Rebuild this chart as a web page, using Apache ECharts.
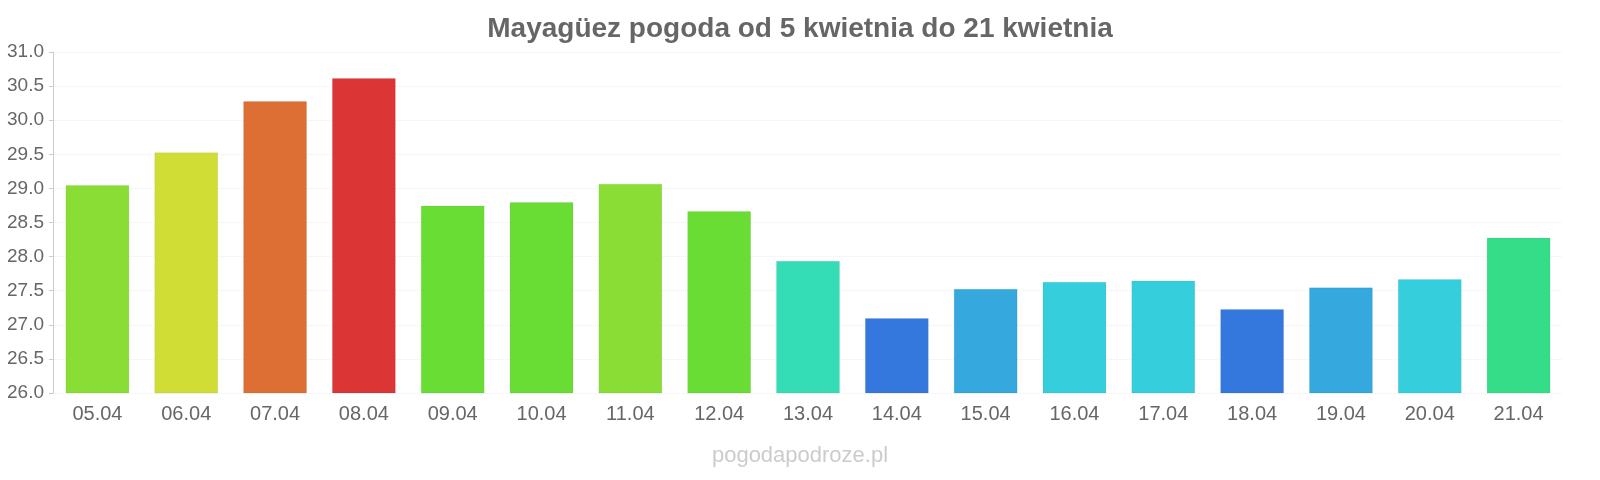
<!DOCTYPE html>
<html><head><meta charset="utf-8">
<script src="https://cdn.jsdelivr.net/npm/echarts@6/dist/echarts.min.js"></script>
<style>html,body{margin:0;padding:0;background:#fff}#c{width:1600px;height:480px}</style>
</head><body><div id="c"></div>
<script>
const categories = ['05.04','06.04','07.04','08.04','09.04','10.04','11.04','12.04','13.04','14.04','15.04','16.04','17.04','18.04','19.04','20.04','21.04'];
const temps = [29.05, 29.53, 30.28, 30.62, 28.75, 28.8, 29.07, 28.67, 27.94, 27.1, 27.53, 27.63, 27.65, 27.23, 27.55, 27.67, 28.28];
const barColors = ['#8add34','#d0dd35','#dd6f35','#dc3535','#6add35','#6add35','#8add34','#6add35','#35ddb7','#3578dd','#35a8dd','#35cedd','#35cedd','#3578dd','#35a8dd','#35cedd','#35dd88'];
const yTicks = ['26.0','26.5','27.0','27.5','28.0','28.5','29.0','29.5','30.0','30.5','31.0'];
const titleText = 'Mayagüez pogoda od 5 kwietnia do 21 kwietnia';
const watermark = 'pogodapodroze.pl';

const chart = echarts.init(document.getElementById('c'), null, {renderer:'canvas'});
chart.setOption({
  animation:false,
  title:[{text:titleText,left:'center',top:10,textStyle:{fontFamily:'Liberation Sans, Arial',fontSize:28,fontWeight:'bold',color:'#666'}},
         {text:watermark,left:'center',top:440,textStyle:{fontFamily:'Liberation Sans, Arial',fontSize:22,fontWeight:'normal',color:'#ccc'}}],
  grid:{left:53,right:37,top:52,bottom:87,containLabel:false},
  xAxis:{type:'category',data:categories,
    axisLine:{show:false},axisTick:{show:false},
    axisLabel:{color:'#666',fontSize:20,fontFamily:'Liberation Sans, Arial',margin:11}},
  yAxis:{type:'value',min:26,max:31,interval:0.5,
    axisLine:{show:true,lineStyle:{color:'#ccc'}},
    axisTick:{show:true,length:4,lineStyle:{color:'#ccc'}},
    axisLabel:{color:'#666',fontSize:19,fontFamily:'Liberation Sans, Arial',margin:9,
      formatter:function(v){return yTicks[Math.round((v-26)/0.5)] || v.toFixed(1);}},
    splitLine:{show:true,lineStyle:{color:'#eee',type:'dotted'}}},
  series:[{type:'bar',barCategoryGap:'28%',
    data:temps.map((v,i)=>({value:v,itemStyle:{color:barColors[i],borderColor:'rgba(0,0,0,0.06)',borderWidth:1}}))}]
});
</script></body></html>
